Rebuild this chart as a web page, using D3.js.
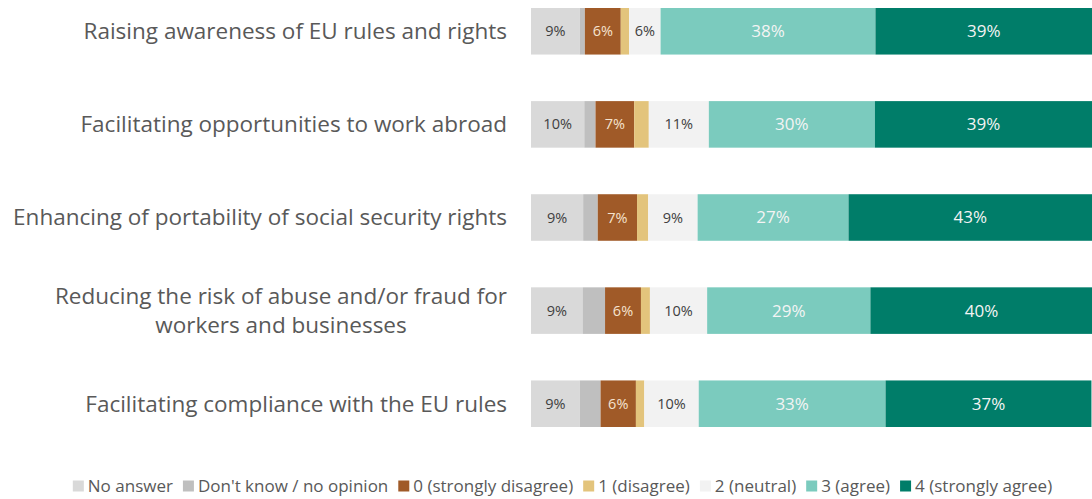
<!DOCTYPE html>
<html>
<head>
<meta charset="utf-8">
<script src="https://cdn.jsdelivr.net/npm/d3@7"></script>
<style>
  body { margin: 0; background: #fff; }
  svg { display: block; }
  text { font-family: "Open Sans", Lato, sans-serif; }
</style>
</head>
<body>
<div id="chart"></div>
<script>
const categories = [
  'Raising awareness of EU rules and rights',
  'Facilitating opportunities to work abroad',
  'Enhancing of portability of social security rights',
  'Reducing the risk of abuse and/or fraud for|workers and businesses',
  'Facilitating compliance with the EU rules'
]
const seriesNames = ['No answer', "Don't know / no opinion", '0 (strongly disagree)', '1 (disagree)', '2 (neutral)', '3 (agree)', '4 (strongly agree)']
const seriesColors = ['#d9d9d9', '#bfbfbf', '#a05a28', '#e3c47c', '#f2f2f2', '#7bcbbe', '#007d69']
const labelColors = ['#404040', '#404040', '#f5e3cf', '#404040', '#404040', '#f4f4f4', '#f4f4f4']

// one array per series, values per category (percent)
const noAnswer = [8.7, 9.5, 9.3, 9.2, 8.7]
const dontKnow = [0.9, 2.0, 2.6, 4.0, 3.7]
const strongDisagree = [6.4, 6.9, 7.0, 6.4, 6.3]
const disagree = [1.5, 2.6, 2.0, 1.6, 1.5]
const neutral = [5.6, 10.7, 8.8, 10.2, 9.7]
const agree = [38.3, 29.6, 26.9, 29.1, 33.3]
const stronglyAgree = [38.6, 38.7, 43.4, 39.6, 36.7]

const seriesValues = [noAnswer, dontKnow, strongDisagree, disagree, neutral, agree, stronglyAgree]

const width = 1092, height = 499
const svg = d3.select('#chart').append('svg')
    .attr('width', width)
    .attr('height', height)

const rows = categories.map((c, i) => {
  const row = { category: c }
  seriesNames.forEach((s, j) => { row[s] = seriesValues[j][i] })
  return row
})

const stacked = d3.stack().keys(seriesNames)(rows)

const x = d3.scaleLinear().domain([0, 100]).range([531, 1092])
const y = d3.scaleBand()
    .domain(categories)
    .range([8, 427])
    .paddingInner(0.5)
    .paddingOuter(0)

const layers = svg.append('g')
  .selectAll('g')
    .data(stacked)
  .enter().append('g')
    .attr('fill', (d, i) => seriesColors[i])

layers.selectAll('rect')
    .data(d => d)
  .enter().append('rect')
    .attr('x', d => x(d[0]))
    .attr('y', d => y(d.data.category))
    .attr('width', d => x(d[1]) - x(d[0]))
    .attr('height', y.bandwidth())

// value labels, only for segments big enough to hold one
layers.each(function(layer, i) {
  d3.select(this).selectAll('text')
      .data(layer.filter(d => d[1] - d[0] >= 4.5))
    .enter().append('text')
      .attr('x', d => (x(d[0]) + x(d[1])) / 2)
      .attr('y', d => y(d.data.category) + y.bandwidth() / 2)
      .attr('dy', '0.35em')
      .attr('text-anchor', 'middle')
      .style('font-size', i >= 5 ? '17px' : '14.5px')
      .style('fill', labelColors[i])
      .text(d => Math.round(d[1] - d[0]) + '%')
})

// category labels, right aligned, wrapped lines centred on each other
const catG = svg.append('g')
categories.forEach(c => {
  const lines = c.split('|')
  const g = catG.append('g')
  const texts = lines.map(l => g.append('text')
      .style('font-size', '22.5px')
      .style('fill', '#595959')
      .text(l))
  const maxW = d3.max(texts, t => t.node().getComputedTextLength())
  const cx = 507 - maxW / 2
  const lineH = 29
  const cy = y(c) + y.bandwidth() / 2
  texts.forEach((t, k) => {
    t.attr('x', cx)
      .attr('text-anchor', 'middle')
      .attr('y', cy + (k - (lines.length - 1) / 2) * lineH)
      .attr('dy', '0.35em')
  })
})

// legend
const legend = svg.append('g')
let lx = 0
seriesNames.forEach((s, i) => {
  const item = legend.append('g').attr('transform', `translate(${lx},0)`)
  item.append('rect')
      .attr('x', 0)
      .attr('y', -5.5)
      .attr('width', 11)
      .attr('height', 11)
      .attr('fill', seriesColors[i])
  const t = item.append('text')
      .attr('x', 15)
      .attr('dy', '0.35em')
      .style('font-size', '17px')
      .style('fill', '#595959')
      .text(s)
  lx += 15 + t.node().getComputedTextLength() + 10
})
const legendW = lx - 10
legend.attr('transform', `translate(${(72 + 1053) / 2 - legendW / 2},486)`)
</script>
</body>
</html>
